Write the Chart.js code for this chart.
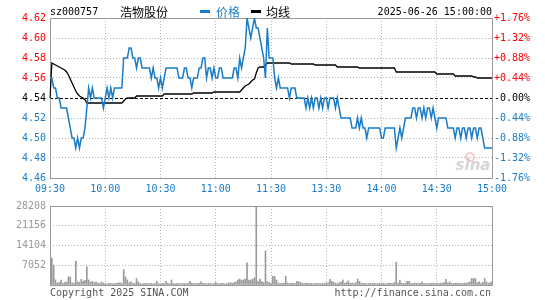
<!DOCTYPE html>
<html>
<head>
<meta charset="utf-8">
<script src="https://cdn.jsdelivr.net/npm/chart.js@4.4.1/dist/chart.umd.min.js"></script>
<style>
body { margin: 0; background: #fff; }
#wrap { position: relative; width: 545px; height: 300px; }
canvas { position: absolute; left: 0; }
#priceChart { top: 0; }
#volChart { top: 196px; }
</style>
</head>
<body>
<div id="wrap">
  <canvas id="priceChart" width="545" height="196"></canvas>
  <canvas id="volChart" width="545" height="104"></canvas>
</div>
<script>
const CODE = 'sz000757';
const NAME = '浩物股份';
const STAMP = '2025-06-26 15:00:00';
const PREV_CLOSE = 4.54;
const PRICE_MIN = 4.46, PRICE_MAX = 4.62, PRICE_STEP = 0.02;
const VOL_MAX = 28208, VOL_STEP = 7052;
const timeTicks = ['09:30', '10:00', '10:30', '11:00', '11:30', '13:30', '14:00', '14:30', '15:00'];

// minute prices, 09:30 .. 11:30, 13:01 .. 15:00
const price = [
  4.56, 4.56, 4.55, 4.55, 4.54, 4.54, 4.53, 4.53, 4.53, 4.53,
  4.52, 4.51, 4.50, 4.50, 4.49, 4.50, 4.49, 4.50, 4.50, 4.51,
  4.53, 4.55, 4.54, 4.55, 4.54, 4.54, 4.54, 4.54, 4.54, 4.53,
  4.54, 4.55, 4.54, 4.55, 4.54, 4.55, 4.55, 4.55, 4.55, 4.55,
  4.58, 4.58, 4.58, 4.59, 4.59, 4.58, 4.58, 4.57, 4.58, 4.58,
  4.57, 4.57, 4.57, 4.57, 4.57, 4.56, 4.57, 4.56, 4.56, 4.55,
  4.56, 4.55, 4.56, 4.57, 4.57, 4.57, 4.57, 4.57, 4.57, 4.57,
  4.56, 4.56, 4.56, 4.57, 4.57, 4.56, 4.56, 4.55, 4.56, 4.56,
  4.56, 4.57, 4.57, 4.58, 4.58, 4.56, 4.57, 4.57, 4.56, 4.57,
  4.56, 4.56, 4.57, 4.57, 4.56, 4.56, 4.56, 4.56, 4.56, 4.56,
  4.57, 4.57, 4.56, 4.58, 4.57, 4.58, 4.59, 4.62, 4.61, 4.60,
  4.61, 4.62, 4.61, 4.61, 4.60, 4.59, 4.58, 4.56, 4.61, 4.58,
  4.58, 4.58, 4.56, 4.55, 4.56, 4.55, 4.55, 4.55, 4.55, 4.55,
  4.54, 4.55, 4.55, 4.55, 4.54, 4.54, 4.54, 4.54, 4.54, 4.53,
  4.54, 4.53, 4.54, 4.53, 4.54, 4.54, 4.53, 4.54, 4.53, 4.54,
  4.54, 4.53, 4.54, 4.54, 4.54, 4.53, 4.54, 4.53, 4.52, 4.52,
  4.52, 4.52, 4.52, 4.52, 4.51, 4.51, 4.51, 4.52, 4.51, 4.52,
  4.51, 4.51, 4.50, 4.51, 4.51, 4.51, 4.51, 4.51, 4.51, 4.51,
  4.50, 4.50, 4.51, 4.51, 4.51, 4.51, 4.51, 4.51, 4.49, 4.50,
  4.51, 4.50, 4.51, 4.52, 4.52, 4.52, 4.52, 4.53, 4.53, 4.52,
  4.53, 4.53, 4.52, 4.53, 4.52, 4.53, 4.53, 4.52, 4.53, 4.52,
  4.51, 4.52, 4.52, 4.52, 4.52, 4.52, 4.51, 4.51, 4.51, 4.51,
  4.50, 4.51, 4.51, 4.50, 4.51, 4.51, 4.50, 4.51, 4.51, 4.50,
  4.51, 4.51, 4.50, 4.51, 4.51, 4.50, 4.49, 4.49, 4.49, 4.49,
  4.49
];

const avgPrice = [
  4.540, 4.575, 4.574, 4.573, 4.572, 4.571, 4.570, 4.569, 4.568, 4.566,
  4.563, 4.559, 4.555, 4.551, 4.547, 4.544, 4.542, 4.541, 4.540, 4.538,
  4.535, 4.535, 4.535, 4.535, 4.535, 4.535, 4.535, 4.535, 4.535, 4.535,
  4.535, 4.535, 4.535, 4.535, 4.535, 4.535, 4.535, 4.535, 4.535, 4.535,
  4.537, 4.539, 4.540, 4.540, 4.540, 4.540, 4.540, 4.542, 4.542, 4.542,
  4.542, 4.542, 4.542, 4.542, 4.542, 4.542, 4.542, 4.542, 4.542, 4.542,
  4.542, 4.542, 4.544, 4.544, 4.544, 4.544, 4.544, 4.544, 4.544, 4.544,
  4.544, 4.544, 4.544, 4.544, 4.544, 4.544, 4.544, 4.544, 4.545, 4.545,
  4.545, 4.545, 4.545, 4.545, 4.545, 4.545, 4.545, 4.545, 4.545, 4.546,
  4.546, 4.546, 4.546, 4.546, 4.546, 4.546, 4.546, 4.546, 4.546, 4.546,
  4.546, 4.546, 4.546, 4.546, 4.548, 4.550, 4.552, 4.553, 4.554, 4.556,
  4.558, 4.559, 4.565, 4.570, 4.571, 4.571, 4.571, 4.573, 4.575, 4.575,
  4.575, 4.575, 4.575, 4.575, 4.575, 4.575, 4.575, 4.575, 4.575, 4.575,
  4.575, 4.574, 4.574, 4.574, 4.574, 4.574, 4.574, 4.574, 4.574, 4.574,
  4.574, 4.574, 4.574, 4.574, 4.573, 4.573, 4.573, 4.573, 4.573, 4.573,
  4.573, 4.573, 4.573, 4.573, 4.573, 4.573, 4.571, 4.571, 4.571, 4.571,
  4.571, 4.571, 4.571, 4.571, 4.571, 4.571, 4.571, 4.571, 4.570, 4.570,
  4.570, 4.570, 4.570, 4.570, 4.570, 4.570, 4.570, 4.570, 4.570, 4.570,
  4.570, 4.570, 4.570, 4.570, 4.570, 4.570, 4.570, 4.570, 4.566, 4.566,
  4.566, 4.566, 4.566, 4.566, 4.566, 4.566, 4.566, 4.566, 4.566, 4.566,
  4.566, 4.566, 4.566, 4.566, 4.566, 4.566, 4.566, 4.566, 4.566, 4.566,
  4.564, 4.564, 4.564, 4.564, 4.564, 4.564, 4.564, 4.564, 4.564, 4.564,
  4.562, 4.562, 4.562, 4.562, 4.562, 4.562, 4.562, 4.562, 4.562, 4.562,
  4.561, 4.561, 4.560, 4.560, 4.560, 4.560, 4.560, 4.560, 4.560, 4.560,
  4.560
];

const volume = [
  1200, 9600, 7100, 1800, 700, 900, 1800, 600, 900, 1100,
  2900, 2900, 800, 600, 8500, 1100, 900, 2000, 1300, 1700,
  6500, 1800, 1000, 1300, 800, 1000, 700, 500, 1100, 700,
  500, 400, 600, 500, 400, 500, 600, 700, 900, 500,
  5500, 2900, 1800, 800, 1100, 500, 600, 2300, 1100, 500,
  400, 500, 600, 400, 500, 600, 400, 500, 1300, 500,
  400, 600, 500, 1300, 600, 500, 1800, 500, 400, 600,
  500, 400, 500, 600, 400, 500, 1300, 600, 500, 400,
  600, 500, 1100, 600, 500, 400, 600, 500, 400, 500,
  900, 500, 400, 600, 500, 400, 500, 700, 800, 600,
  900, 1100, 1800, 2100, 1700, 1800, 2100, 7900, 1800, 1800,
  2100, 2600, 28208, 1200, 2100, 1200, 900, 12150, 1200, 900,
  600, 3100, 3100, 1800, 700, 500, 600, 700, 3100, 700,
  500, 600, 700, 500, 1300, 1100, 1000, 600, 500, 700,
  600, 500, 600, 400, 500, 600, 500, 400, 600, 500,
  700, 800, 2000, 1300, 1000, 600, 500, 800, 1000, 1800,
  600, 900, 1500, 600, 700, 500, 800, 2100, 1300, 700,
  500, 600, 400, 500, 600, 500, 700, 400, 500, 600,
  500, 600, 400, 500, 700, 600, 500, 900, 8100, 700,
  1800, 600, 500, 700, 1300, 1300, 600, 500, 700, 600,
  500, 600, 1100, 500, 600, 400, 500, 600, 700, 500,
  600, 500, 700, 600, 900, 2000, 700, 1100, 600, 500,
  600, 700, 500, 600, 500, 700, 600, 900, 1000, 2300,
  2300, 2300, 800, 1100, 600, 900, 2300, 1100, 600, 900,
  1200
];

const RED = '#ff0000';
const BLUE = '#1a7cc7';
const GRID = '#b4b4b4';
const FRAME = '#999999';
const MONO = '10px "DejaVu Sans Mono", monospace';
const CJK = '12px "Noto Sans CJK SC", sans-serif';

// minute labels for the category axis
function hhmm(t) {
  const h = Math.floor(t / 60), m = t % 60;
  return String(h).padStart(2, '0') + ':' + String(m).padStart(2, '0');
}
const minutes = [];
for (let t = 570; t <= 690; t++) minutes.push(hhmm(t));
for (let t = 781; t <= 900; t++) minutes.push(hhmm(t));

function sameAsPrev(v) { return Math.abs(v - PREV_CLOSE) < 1e-6; }
function priceColor(v) {
  if (sameAsPrev(v)) return '#000';
  return v > PREV_CLOSE ? RED : BLUE;
}
function timeGrid(ctx) { return ctx.index % 30 === 0 ? GRID : 'rgba(0,0,0,0)'; }

const frame = {
  id: 'frame',
  beforeDatasetsDraw(chart, args, opts) {
    const c = chart.ctx, a = chart.chartArea;
    c.save();
    if (opts.prevLine) {
      const y = Math.round(chart.scales.y.getPixelForValue(PREV_CLOSE)) + 0.5;
      c.strokeStyle = '#000';
      c.lineWidth = 1;
      c.setLineDash([3, 2]);
      c.beginPath();
      c.moveTo(a.left, y);
      c.lineTo(a.right, y);
      c.stroke();
      c.setLineDash([]);
      // faint sina watermark
      c.strokeStyle = 'rgba(235,165,165,0.55)';
      c.lineWidth = 2;
      c.beginPath();
      c.arc(470, 157, 4, 0, Math.PI * 2);
      c.stroke();
      c.font = 'italic bold 15px "DejaVu Sans", sans-serif';
      c.fillStyle = 'rgba(195,195,195,0.7)';
      c.textAlign = 'center';
      c.textBaseline = 'middle';
      c.fillText('sina', 473, 166);
    }
    c.strokeStyle = FRAME;
    c.lineWidth = 1;
    c.strokeRect(Math.round(a.left) + 0.5, Math.round(a.top) + 0.5,
      Math.round(a.right - a.left), Math.round(a.bottom - a.top));
    c.restore();
  },
  afterDraw(chart, args, opts) {
    const c = chart.ctx;
    c.save();
    c.textBaseline = 'middle';
    (opts.texts || []).forEach(t => {
      c.font = t.font;
      c.fillStyle = t.color;
      c.textAlign = t.align || 'left';
      c.fillText(t.text, t.x, t.y);
    });
    (opts.marks || []).forEach(m => {
      c.fillStyle = m.color;
      c.fillRect(m.x, m.y, m.w, m.h);
    });
    c.restore();
  }
};

const priceChart = new Chart(document.getElementById('priceChart'), {
  type: 'line',
  data: {
    labels: minutes,
    datasets: [{
      label: '价格',
      data: price,
      borderColor: BLUE,
      borderWidth: 1.5,
      pointRadius: 0,
      tension: 0,
      yAxisID: 'y'
    }, {
      label: '均线',
      data: avgPrice,
      borderColor: '#000',
      borderWidth: 1.3,
      pointRadius: 0,
      tension: 0,
      yAxisID: 'y'
    }]
  },
  options: {
    responsive: false,
    animation: false,
    devicePixelRatio: 1,
    layout: { padding: { top: 18, left: 0, right: 0, bottom: 0 } },
    plugins: {
      legend: { display: false },
      tooltip: { enabled: false },
      frame: {
        prevLine: true,
        texts: [
          { text: CODE, x: 50, y: 12, font: MONO, color: '#000' },
          { text: NAME, x: 120, y: 12, font: CJK, color: '#000' },
          { text: '价格', x: 216, y: 12, font: CJK, color: BLUE },
          { text: '均线', x: 266, y: 12, font: CJK, color: '#000' },
          { text: STAMP, x: 492, y: 12, font: MONO, color: '#000', align: 'right' }
        ],
        marks: [
          { x: 200, y: 10, w: 10, h: 3, color: BLUE },
          { x: 251, y: 10, w: 10, h: 3, color: '#000' }
        ]
      }
    },
    scales: {
      x: {
        grid: { color: timeGrid, drawTicks: false },
        border: { display: false, dash: [1, 2] },
        ticks: {
          autoSkip: false,
          maxRotation: 0,
          padding: 5,
          color: BLUE,
          font: { family: '"DejaVu Sans Mono", monospace', size: 10 },
          callback: (v, i) => (i % 30 === 0 ? timeTicks[i / 30] : '')
        },
        afterFit: s => { s.height = 18; }
      },
      y: {
        position: 'left',
        min: PRICE_MIN,
        max: PRICE_MAX,
        grid: { color: c => (sameAsPrev(c.tick.value) ? 'rgba(0,0,0,0)' : GRID), drawTicks: false },
        border: { display: false, dash: [1, 2] },
        ticks: {
          stepSize: PRICE_STEP,
          padding: 4,
          color: c => priceColor(c.tick.value),
          font: { family: '"DejaVu Sans Mono", monospace', size: 10 },
          callback: v => v.toFixed(2)
        },
        afterFit: s => { s.width = 50; }
      },
      y1: {
        position: 'right',
        min: PRICE_MIN,
        max: PRICE_MAX,
        grid: { display: false, drawTicks: false },
        border: { display: false },
        ticks: {
          stepSize: PRICE_STEP,
          padding: 2,
          color: c => priceColor(c.tick.value),
          font: { family: '"DejaVu Sans Mono", monospace', size: 10 },
          callback: v => {
            if (sameAsPrev(v)) return '-0.00%';
            const pct = (v - PREV_CLOSE) / PREV_CLOSE * 100;
            return (pct > 0 ? '+' : '') + pct.toFixed(2) + '%';
          }
        },
        afterFit: s => { s.width = 53; }
      }
    }
  },
  plugins: [frame]
});

const volChart = new Chart(document.getElementById('volChart'), {
  type: 'bar',
  data: {
    labels: minutes,
    datasets: [{
      label: 'volume',
      data: volume,
      backgroundColor: '#999999',
      barThickness: 1,
      categoryPercentage: 1
    }]
  },
  options: {
    responsive: false,
    animation: false,
    devicePixelRatio: 1,
    layout: { padding: { top: 5, left: 0, right: 53, bottom: 0 } },
    plugins: {
      legend: { display: false },
      tooltip: { enabled: false },
      frame: {
        texts: [
          { text: 'Copyright 2025 SINA.COM', x: 50, y: 97, font: MONO, color: '#555' },
          { text: 'http://finance.sina.com.cn', x: 491, y: 97, font: MONO, color: '#555', align: 'right' }
        ]
      }
    },
    scales: {
      x: {
        offset: false,
        grid: { color: timeGrid, drawTicks: false, offset: false },
        border: { display: false, dash: [1, 2] },
        ticks: { display: false, autoSkip: false },
        afterFit: s => { s.height = 15; }
      },
      y: {
        min: 0,
        max: VOL_MAX,
        grid: { color: GRID, drawTicks: false },
        border: { display: false, dash: [1, 2] },
        ticks: {
          stepSize: VOL_STEP,
          padding: 4,
          color: '#999999',
          font: { family: '"DejaVu Sans Mono", monospace', size: 10 },
          callback: v => (v === 0 ? '' : v)
        },
        afterFit: s => { s.width = 50; }
      }
    }
  },
  plugins: [frame]
});
</script>
</body>
</html>
